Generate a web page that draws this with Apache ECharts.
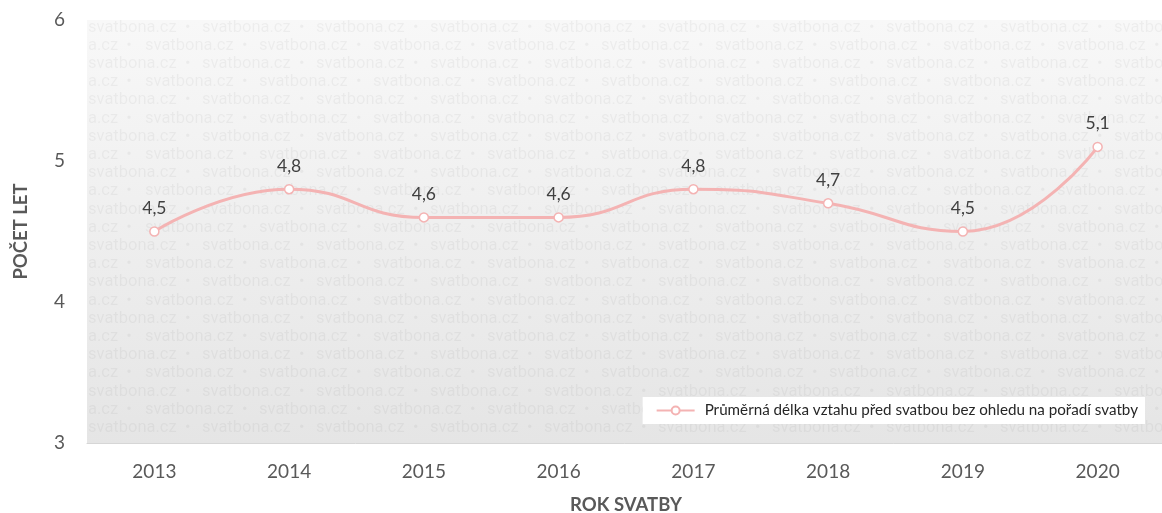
<!DOCTYPE html>
<html><head><meta charset="utf-8">
<script src="https://cdn.jsdelivr.net/npm/echarts@6/dist/echarts.min.js"></script>
<style>html,body{margin:0;padding:0;background:#fff;overflow:hidden}#c{width:1162px;height:513px}</style>
</head><body><div id="c"></div>
<script>
const categories = ['2013', '2014', '2015', '2016', '2017', '2018', '2019', '2020'];
const values = [4.5, 4.8, 4.6, 4.6, 4.8, 4.7, 4.5, 5.1];
const seriesName = 'Průměrná délka vztahu před svatbou bez ohledu na pořadí svatby';
const yMin = 3, yMax = 6, yStep = 1;
const xAxisName = 'ROK SVATBY';
const yAxisName = 'POČET LET';
const watermarkWord = 'svatbona.cz  •';
const watermarkPartial = 'a.cz  •';

const chart = echarts.init(document.getElementById('c'));

// watermark texture rows inside the plot area
const wm = [];
const wmStyle = { fill: 'rgba(0,0,0,0.045)', font: '16.5px Roboto', verticalAlign: 'middle', align: 'left' };
for (let r = 0; r < 23; r++) {
  const y = 27.5 + r * 18.2;
  let x0 = 88;
  if (r % 2 === 1) {
    wm.push({ type: 'text', x: 88, y: y, z: 1, silent: true, style: Object.assign({ text: watermarkPartial }, wmStyle) });
    x0 = 145;
  }
  for (let x = x0; x < 1170; x += 114) {
    wm.push({ type: 'text', x: x, y: y, z: 1, silent: true, style: Object.assign({ text: watermarkWord }, wmStyle) });
  }
}

const option = {
  backgroundColor: '#ffffff',
  animation: false,
  grid: {
    left: 87, right: -3, top: 20, bottom: 70,
    outerBoundsMode: 'none',
    containLabel: false,
    show: true, borderWidth: 0,
    backgroundColor: new echarts.graphic.LinearGradient(0, 0, 0, 1, [
      { offset: 0, color: '#f8f8f8' },
      { offset: 1, color: '#e5e5e5' }
    ])
  },
  graphic: wm,
  legend: {
    right: 17, top: 397,
    backgroundColor: '#ffffff',
    padding: [6, 7, 6, 13],
    itemWidth: 38, itemHeight: 10,
    textStyle: { fontFamily: 'Lato', fontSize: 15.2, color: '#262626', padding: [0, 0, 0, 5] },
    data: [seriesName]
  },
  xAxis: {
    type: 'category',
    data: categories,
    boundaryGap: true,
    axisLine: { show: true, lineStyle: { color: '#d6d6d6', width: 1 } },
    axisTick: { show: false },
    axisLabel: { margin: 19, color: '#595959', fontFamily: 'Lato', fontSize: 19 },
    name: xAxisName,
    nameLocation: 'middle',
    nameGap: 53,
    nameTextStyle: { fontFamily: 'Lato', fontWeight: 'bold', fontSize: 18.5, color: '#595959' }
  },
  yAxis: {
    type: 'value',
    min: yMin, max: yMax, interval: yStep,
    axisLine: { show: false },
    axisTick: { show: false },
    splitLine: { show: false },
    axisLabel: { margin: 22, color: '#595959', fontFamily: 'Lato', fontSize: 19 },
    name: yAxisName,
    nameLocation: 'middle',
    nameGap: 56,
    nameRotate: 90,
    nameTextStyle: { fontFamily: 'Lato', fontWeight: 'bold', fontSize: 18.5, color: '#595959' }
  },
  series: [{
    name: seriesName,
    type: 'line',
    data: values,
    smooth: 0.5,
    symbol: 'circle',
    symbolSize: 9,
    z: 5,
    lineStyle: { color: '#f4b3b3', width: 3 },
    itemStyle: { color: '#ffffff', borderColor: '#f4b3b3', borderWidth: 1.5 },
    label: {
      show: true, position: 'top', distance: 9,
      color: '#404040', fontFamily: 'Lato', fontSize: 17.5,
      formatter: p => p.value.toFixed(1).replace('.', ',')
    }
  }]
};
chart.setOption(option);
</script></body></html>
